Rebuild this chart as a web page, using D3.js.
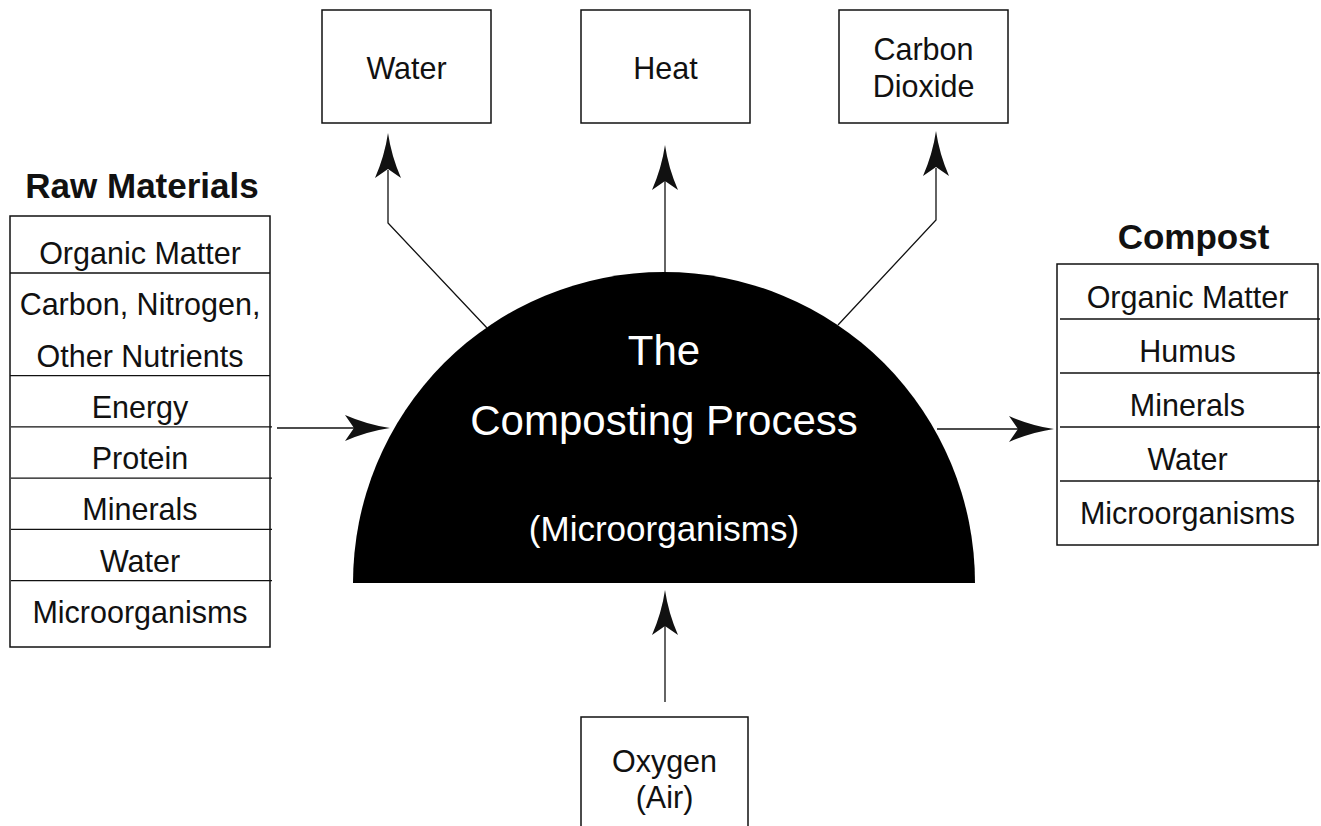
<!DOCTYPE html>
<html>
<head>
<meta charset="utf-8">
<script src="https://cdn.jsdelivr.net/npm/d3@7"></script>
<style>
  html, body { margin: 0; padding: 0; background: #fff; }
  svg { display: block; font-family: "Liberation Sans", Arial, Helvetica, sans-serif; }
</style>
</head>
<body>
<svg id="chart" width="1321" height="826"></svg>
<script>
// ---- data ----
const rawTitle = "Raw Materials";
const rawMaterials = [
  ["Organic Matter"],
  ["Carbon, Nitrogen,", "Other Nutrients"],
  ["Energy"],
  ["Protein"],
  ["Minerals"],
  ["Water"],
  ["Microorganisms"]
];
const compostTitle = "Compost";
const compostItems = ["Organic Matter", "Humus", "Minerals", "Water", "Microorganisms"];
const outputs = [["Water"], ["Heat"], ["Carbon", "Dioxide"]];
const inputTop = ["Oxygen", "(Air)"];
const processLines = ["The", "Composting Process", "(Microorganisms)"];

// ---- drawing ----
const svg = d3.select("#chart");
const W = 1321, H = 826;
const ink = "#111";
const FS = 30.5, FSB = 35;

// Arrowhead generator (tip at origin, pointing along +x)
function arrowHead(g, x, y, angleDeg) {
  const L = 45, hw = 13, notch = 36;
  const p = d3.path();
  p.moveTo(0, 0);
  p.quadraticCurveTo(-L * 0.5, -hw * 0.25, -L, -hw);
  p.lineTo(-notch, 0);
  p.lineTo(-L, hw);
  p.quadraticCurveTo(-L * 0.5, hw * 0.25, 0, 0);
  p.closePath();
  g.append("path")
    .attr("d", p.toString())
    .attr("fill", ink)
    .attr("transform", `translate(${x},${y}) rotate(${angleDeg})`);
}
function polyline(pts) {
  svg.append("path")
    .attr("d", d3.line()(pts))
    .attr("fill", "none")
    .attr("stroke", ink)
    .attr("stroke-width", 1.3);
}

// ---- The dome (semicircle) ----
const dome = { cx: 664, cy: 583, r: 311 };
svg.append("path")
  .attr("d", d3.arc()({ innerRadius: 0, outerRadius: dome.r, startAngle: -Math.PI / 2, endAngle: Math.PI / 2 }))
  .attr("transform", `translate(${dome.cx},${dome.cy})`)
  .attr("fill", "#000");

const procY = [350, 420, 528];
const procSize = [42, 42, 35];
processLines.forEach((t, i) => {
  svg.append("text")
    .attr("x", dome.cx).attr("y", procY[i])
    .attr("dy", "0.36em")
    .attr("text-anchor", "middle")
    .attr("fill", "#fff")
    .attr("font-size", procSize[i])
    .text(t);
});

// ---- Left list: Raw Materials ----
const left = { x0: 10, x1: 270 };
const slotsLeft = d3.scaleLinear().domain([0, 7]).range([253, 612]);
svg.append("text")
  .attr("x", (left.x0 + left.x1) / 2 + 2).attr("y", 185)
  .attr("dy", "0.36em").attr("text-anchor", "middle")
  .attr("font-weight", "bold").attr("font-size", FSB)
  .attr("fill", ink).text(rawTitle);

let slot = 0;
const leftDividers = [];
rawMaterials.forEach((lines, i) => {
  lines.forEach(line => {
    svg.append("text")
      .attr("x", (left.x0 + left.x1) / 2).attr("y", slotsLeft(slot))
      .attr("dy", "0.36em").attr("text-anchor", "middle")
      .attr("font-size", FS).attr("fill", ink).text(line);
    slot++;
  });
  if (i < rawMaterials.length - 1) leftDividers.push(slotsLeft(slot - 1) + 20);
});
const leftTop = slotsLeft(0) - 37, leftBottom = slotsLeft(7) + 35;
svg.append("rect")
  .attr("x", left.x0).attr("y", leftTop)
  .attr("width", left.x1 - left.x0).attr("height", leftBottom - leftTop)
  .attr("fill", "none").attr("stroke", ink).attr("stroke-width", 1.5);
leftDividers.forEach((y, i) => {
  svg.append("line")
    .attr("x1", i < 2 ? left.x0 : left.x0 + 1).attr("x2", i < 2 ? left.x1 : left.x1 + 2)
    .attr("y1", y).attr("y2", y)
    .attr("stroke", ink).attr("stroke-width", 1.3);
});

// ---- Right list: Compost ----
const right = { x0: 1057, x1: 1318 };
const slotsRight = d3.scaleLinear().domain([0, 4]).range([297, 513]);
svg.append("text")
  .attr("x", (right.x0 + right.x1) / 2 + 6).attr("y", 236)
  .attr("dy", "0.36em").attr("text-anchor", "middle")
  .attr("font-weight", "bold").attr("font-size", FSB)
  .attr("fill", ink).text(compostTitle);
compostItems.forEach((t, i) => {
  svg.append("text")
    .attr("x", (right.x0 + right.x1) / 2).attr("y", slotsRight(i))
    .attr("dy", "0.36em").attr("text-anchor", "middle")
    .attr("font-size", FS).attr("fill", ink).text(t);
  if (i < compostItems.length - 1) {
    const y = slotsRight(i) + 22;
    svg.append("line")
      .attr("x1", right.x0 + 3).attr("x2", right.x1 + 2)
      .attr("y1", y).attr("y2", y)
      .attr("stroke", ink).attr("stroke-width", 1.3);
  }
});
svg.append("rect")
  .attr("x", right.x0).attr("y", slotsRight(0) - 33)
  .attr("width", right.x1 - right.x0).attr("height", (slotsRight(4) + 32) - (slotsRight(0) - 33))
  .attr("fill", "none").attr("stroke", ink).attr("stroke-width", 1.5);

// ---- Output boxes (top) ----
const topBoxes = [
  { x0: 322, x1: 491 },
  { x0: 581, x1: 750 },
  { x0: 839, x1: 1008 }
];
const topY0 = 10, topY1 = 123;
outputs.forEach((lines, i) => {
  const b = topBoxes[i];
  svg.append("rect")
    .attr("x", b.x0).attr("y", topY0)
    .attr("width", b.x1 - b.x0).attr("height", topY1 - topY0)
    .attr("fill", "none").attr("stroke", ink).attr("stroke-width", 1.5);
  const cy = 68, lh = 37;
  lines.forEach((t, j) => {
    svg.append("text")
      .attr("x", (b.x0 + b.x1) / 2).attr("y", cy + (j - (lines.length - 1) / 2) * lh)
      .attr("dy", "0.36em").attr("text-anchor", "middle")
      .attr("font-size", FS).attr("fill", ink).text(t);
  });
});

// ---- Input box (bottom) ----
const bot = { x0: 581, x1: 748, y0: 717 };
svg.append("path")
  .attr("d", d3.line()([[bot.x0, H + 5], [bot.x0, bot.y0], [bot.x1, bot.y0], [bot.x1, H + 5]]))
  .attr("fill", "none").attr("stroke", ink).attr("stroke-width", 1.5);
inputTop.forEach((t, j) => {
  svg.append("text")
    .attr("x", (bot.x0 + bot.x1) / 2).attr("y", 761 + j * 36)
    .attr("dy", "0.36em").attr("text-anchor", "middle")
    .attr("font-size", FS).attr("fill", ink).text(t);
});

// ---- Arrows ----
const arrows = svg.append("g");
// Water (up-left)
polyline([[487, 328], [388, 223], [388, 170]]);
arrowHead(arrows, 388, 133, -90);
// Heat
polyline([[665, 272], [665, 180]]);
arrowHead(arrows, 665, 145, -90);
// Carbon dioxide
polyline([[838, 325], [936, 220], [936, 168]]);
arrowHead(arrows, 936, 131, -90);
// Oxygen in (from bottom)
polyline([[665, 702], [665, 625]]);
arrowHead(arrows, 665, 590, -90);
// Raw materials in
polyline([[277, 428], [355, 428]]);
arrowHead(arrows, 390, 428, 0);
// Compost out
polyline([[937, 429], [1020, 429]]);
arrowHead(arrows, 1054, 429, 0);
</script>
</body>
</html>
